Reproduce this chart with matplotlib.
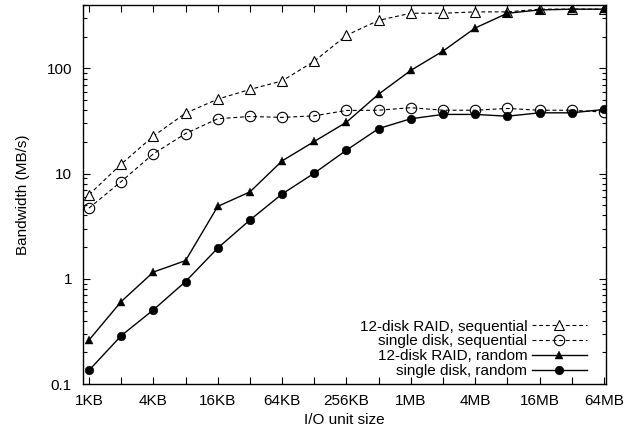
import matplotlib
matplotlib.use("Agg")
import matplotlib.pyplot as plt
import numpy as np
from matplotlib.ticker import FixedLocator, NullFormatter, LogLocator

plt.rcParams['font.family'] = ['Liberation Sans', 'DejaVu Sans']

# I/O unit size in KB (1KB .. 64MB)
sizes_kb = [1, 2, 4, 8, 16, 32, 64, 128, 256, 512, 1024, 2048, 4096, 8192, 16384, 32768, 65536]
raid_seq = [6.3, 12.3, 22.7, 37.5, 51, 63, 76, 117, 206, 286, 334, 334, 344, 344, 365, 365, 365]
disk_seq = [4.7, 8.4, 15.4, 24, 33.2, 34.9, 34.2, 35.4, 39.8, 40, 42.3, 40, 40, 41.6, 40, 40, 38.4]
raid_rand = [0.262, 0.608, 1.16, 1.49, 4.88, 6.7, 13.2, 20.2, 30.8, 56.9, 95.7, 146, 242, 334, 359, 365, 365]
disk_rand = [0.135, 0.288, 0.507, 0.942, 1.96, 3.62, 6.4, 10.1, 16.7, 26.8, 33.2, 36.5, 36.5, 35.1, 37.8, 37.8, 40.7]

xtick_vals = [1, 4, 16, 64, 256, 1024, 4096, 16384, 65536]
xtick_labels = ['1KB', '4KB', '16KB', '64KB', '256KB', '1MB', '4MB', '16MB', '64MB']
ytick_vals = [0.1, 1, 10, 100]
ytick_labels = ['0.1', '1', '10', '100']

FS = 11

fig = plt.figure(figsize=(6.24, 4.34), dpi=100)
ax = fig.add_axes([0.133, 0.115, 0.838, 0.8735])

dash = (3.5, 2.5)
ax.plot(sizes_kb, raid_seq, color='black', lw=0.8, dashes=dash, marker='^',
        markersize=7.5, markerfacecolor='white', markeredgecolor='black', markeredgewidth=0.8,
        label='12-disk RAID, sequential')
ax.plot(sizes_kb, disk_seq, color='black', lw=0.8, dashes=dash, marker='o',
        markersize=7.5, markerfacecolor='none', markeredgecolor='black', markeredgewidth=0.8,
        label='single disk, sequential')
ax.plot(sizes_kb, raid_rand, color='black', lw=1.0, marker='^',
        markersize=6.2, markerfacecolor='black', markeredgecolor='black', markeredgewidth=0.3,
        label='12-disk RAID, random')
ax.plot(sizes_kb, disk_rand, color='black', lw=1.0, marker='o',
        markersize=6.3, markerfacecolor='black', markeredgecolor='black', markeredgewidth=0.3,
        label='single disk, random')

ax.set_xscale('log', base=2)
ax.set_yscale('log')
ax.set_xlim(2 ** -0.186, 2 ** 16.06)
ax.set_ylim(0.1, 400)

ax.set_xticks(sizes_kb)
ax.set_xticklabels([xtick_labels[xtick_vals.index(s)] if s in xtick_vals else '' for s in sizes_kb])
ax.xaxis.set_minor_locator(FixedLocator([]))
ax.set_yticks(ytick_vals)
ax.set_yticklabels(ytick_labels)
ax.yaxis.set_minor_locator(LogLocator(base=10, subs=np.arange(2, 10)))
ax.yaxis.set_minor_formatter(NullFormatter())

ax.tick_params(which='both', direction='in', top=True, right=True, labelsize=FS)
ax.tick_params(axis='x', pad=7)
ax.tick_params(axis='y', pad=8)
ax.tick_params(which='major', length=5, width=0.8)
ax.tick_params(which='minor', length=3, width=0.8)
for s in ax.spines.values():
    s.set_linewidth(1.0)

ax.set_xlabel('I/O unit size', fontsize=FS, labelpad=4)
ax.set_ylabel('Bandwidth (MB/s)', fontsize=FS, labelpad=12)

leg = ax.legend(loc='lower right', frameon=False, markerfirst=False, fontsize=FS,
                handlelength=3.6, labelspacing=0.05, handletextpad=0.3,
                borderaxespad=0, bbox_to_anchor=(0.975, 0.0))

fig.savefig('out.png', dpi=100)
